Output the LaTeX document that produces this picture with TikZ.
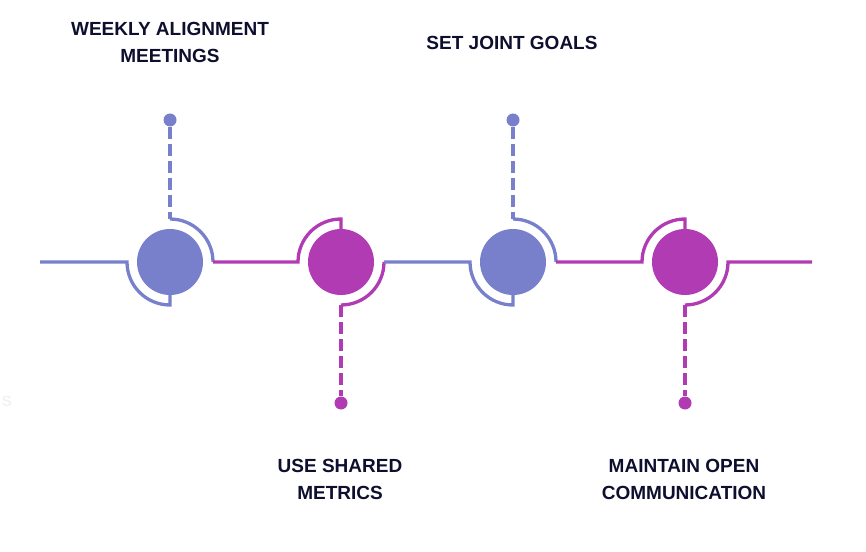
\documentclass[tikz,border=0pt]{standalone}
\usepackage{fontspec}
\setmainfont{Liberation Sans}
\definecolor{stageblue}{HTML}{7880CC}
\definecolor{stagepink}{HTML}{B13BB3}
\definecolor{labelnavy}{HTML}{0E0F2E}
\begin{document}
\begin{tikzpicture}[x=1pt, y=1pt,
  hub/.style={circle, inner sep=0pt, minimum size=66pt},
  pin/.style={circle, inner sep=0pt, minimum size=13pt},
  wire/.style={line width=3.3pt},
  stem/.style={line width=3.3pt, dash pattern=on 12pt off 5pt},
  lab/.style={font=\fontsize{19}{27}\selectfont\bfseries, text=labelnavy, align=center}]
  \useasboundingbox (0,-289) rectangle (866,262);
  % hubs and pins
  \node[hub, fill=stageblue] (h1) at (170,0) {};
  \node[hub, fill=stagepink] (h2) at (341,0) {};
  \node[hub, fill=stageblue] (h3) at (513,0) {};
  \node[hub, fill=stagepink] (h4) at (685,0) {};
  \node[pin, fill=stageblue] (p1) at (170,142) {};
  \node[pin, fill=stagepink] (p2) at (341,-141) {};
  \node[pin, fill=stageblue] (p3) at (513,142) {};
  \node[pin, fill=stagepink] (p4) at (685,-141) {};
  \coordinate (start) at (40,0);
  \coordinate (stop) at (812,0);
  % first stage
  \draw[wire, stageblue] (start) -- ([xshift=-43pt]h1.center)
     arc[start angle=180, end angle=270, radius=43] -- ++(0,10);
  \draw[stem, stageblue] (p1) -- ([yshift=43pt]h1.center);
  \draw[wire, stageblue] ([yshift=43pt]h1.center) arc[start angle=90, end angle=0, radius=43];
  % second stage
  \draw[wire, stagepink] ([xshift=43pt]h1.center) -- ([xshift=-43pt]h2.center)
     arc[start angle=180, end angle=90, radius=43] -- ++(0,-10);
  \draw[wire, stagepink] ([xshift=43pt]h2.center) arc[start angle=0, end angle=-90, radius=43];
  \draw[stem, stagepink] ([yshift=-43pt]h2.center) -- (p2);
  % third stage
  \draw[wire, stageblue] ([xshift=43pt]h2.center) -- ([xshift=-43pt]h3.center)
     arc[start angle=180, end angle=270, radius=43] -- ++(0,10);
  \draw[stem, stageblue] (p3) -- ([yshift=43pt]h3.center);
  \draw[wire, stageblue] ([yshift=43pt]h3.center) arc[start angle=90, end angle=0, radius=43];
  % fourth stage
  \draw[wire, stagepink] ([xshift=43pt]h3.center) -- ([xshift=-43pt]h4.center)
     arc[start angle=180, end angle=90, radius=43] -- ++(0,-10);
  \draw[wire, stagepink] (stop) -- ([xshift=43pt]h4.center) arc[start angle=0, end angle=-90, radius=43];
  \draw[stem, stagepink] ([yshift=-43pt]h4.center) -- (p4);
  % labels
  \node[lab] (t1) at (170,219.5) {WEEKLY ALIGNMENT\\MEETINGS};
  \node[lab] (t2) at (340,-217.5) {USE SHARED\\METRICS};
  \node[lab] (t3) at (512,219) {SET JOINT GOALS};
  \node[lab] (t4) at (684,-217.5) {MAINTAIN OPEN\\COMMUNICATION};
  \node[font=\fontsize{15}{18}\selectfont\bfseries, text=black!5] (ghost) at (7,-139) {S};
\end{tikzpicture}
\end{document}
